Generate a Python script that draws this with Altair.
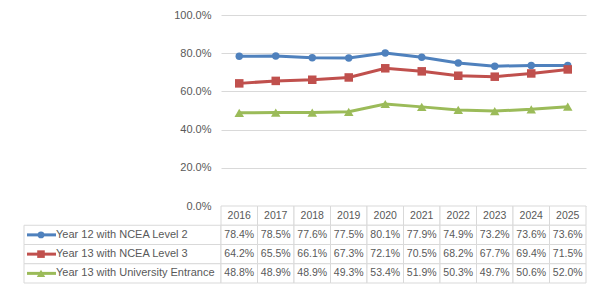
import altair as alt
import pandas as pd

years = ["2016", "2017", "2018", "2019", "2020", "2021", "2022", "2023", "2024", "2025"]
series = ["Year 12 with NCEA Level 2", "Year 13 with NCEA Level 3", "Year 13 with University Entrance"]
level2 = [78.4, 78.5, 77.6, 77.5, 80.1, 77.9, 74.9, 73.2, 73.6, 73.6]
level3 = [64.2, 65.5, 66.1, 67.3, 72.1, 70.5, 68.2, 67.7, 69.4, 71.5]
ue = [48.8, 48.9, 48.9, 49.3, 53.4, 51.9, 50.3, 49.7, 50.6, 52.0]
colors = ["#4f81bd", "#c0504d", "#9bbb59"]
shapes = ["circle", "square", "triangle-up"]
y_ticks = [0, 20, 40, 60, 80, 100]

FONT = "Liberation Sans"
TXT = "#595959"
GRID = "#d9d9d9"

rows = []
for s, vals in zip(series, [level2, level3, ue]):
    for y, v in zip(years, vals):
        rows.append({"year": y, "series": s, "value": v})
df = pd.DataFrame(rows)

row_order = ["header"] + series

W_PLOT, H_PLOT = 365, 191
W_LEG, H_TAB = 197, 77

color_scale = alt.Scale(domain=series, range=colors)
shape_scale = alt.Scale(domain=series, range=shapes)

xpt = alt.X("year:O", axis=None, scale=alt.Scale(type="point", padding=0.5, domain=years))
yq = alt.Y("value:Q", scale=alt.Scale(domain=[0, 100]),
           axis=alt.Axis(values=y_ticks, grid=True, gridColor=GRID, domain=False, ticks=False,
                         labelPadding=10, labelFontSize=11, labelColor=TXT, labelFont=FONT,
                         title=None, labelExpr="format(datum.value, '.1f') + '%'"))

base = alt.Chart(df)
lines = base.mark_line(strokeWidth=3).encode(
    x=xpt, y=yq,
    color=alt.Color("series:N", scale=color_scale, legend=None),
)
points = base.mark_point(filled=True, opacity=1).encode(
    x=xpt, y=yq,
    color=alt.Color("series:N", scale=color_scale, legend=None),
    shape=alt.Shape("series:N", scale=shape_scale, legend=None),
    size=alt.Size("series:N", scale=alt.Scale(domain=series, range=[55, 90, 90]), legend=None),
)
line_chart = alt.layer(lines, points).properties(width=W_PLOT, height=H_PLOT)

spacer = alt.Chart(pd.DataFrame({"a": [0]})).mark_point(opacity=0).encode(
    x=alt.X("a:Q", axis=None), y=alt.Y("a:Q", axis=None)
).properties(width=W_LEG, height=H_PLOT)

# table
tab_rows = [{"row": "header", "year": y, "label": y} for y in years]
for r in rows:
    tab_rows.append({"row": r["series"], "year": r["year"], "label": f"{r['value']:.1f}%"})
tdf = pd.DataFrame(tab_rows)

xb = alt.X("year:N", axis=None, sort=years,
           scale=alt.Scale(type="band", paddingInner=0, paddingOuter=0, domain=years))
yb = alt.Y("row:N", axis=None, sort=row_order,
           scale=alt.Scale(type="band", paddingInner=0, paddingOuter=0, domain=row_order))

tbase = alt.Chart(tdf)
cells = tbase.mark_rect(fill="white", stroke=GRID, strokeWidth=1).encode(x=xb, y=yb)
ctext = tbase.mark_text(font=FONT, fontSize=10.5, color=TXT, baseline="middle", align="center").encode(
    x=xb, y=yb, text="label:N")
table = alt.layer(cells, ctext).properties(width=W_PLOT, height=H_TAB)

# legend column
ldf = pd.DataFrame({"row": series, "col": ["legend"] * 3})
xl = alt.X("col:N", axis=None, scale=alt.Scale(type="band", paddingInner=0, paddingOuter=0))
yl = alt.Y("row:N", axis=None, sort=row_order,
           scale=alt.Scale(type="band", paddingInner=0, paddingOuter=0, domain=row_order))
lbase = alt.Chart(ldf)
lcells = lbase.mark_rect(fill="white", stroke=GRID, strokeWidth=1).encode(x=xl, y=yl)
lline = lbase.mark_rule(strokeWidth=3).encode(
    x=alt.value(3), x2=alt.value(32), y=yl,
    color=alt.Color("row:N", scale=color_scale, legend=None))
lpt = lbase.mark_point(filled=True, opacity=1).encode(
    x=alt.value(17), y=yl,
    color=alt.Color("row:N", scale=color_scale, legend=None),
    shape=alt.Shape("row:N", scale=shape_scale, legend=None),
    size=alt.Size("row:N", scale=alt.Scale(domain=series, range=[45, 70, 70]), legend=None))
ltext = lbase.mark_text(font=FONT, fontSize=11, color=TXT, align="left", baseline="middle").encode(
    x=alt.value(32), y=yl, text="row:N")
legend_col = alt.layer(lcells, lline, lpt, ltext).properties(width=W_LEG, height=H_TAB)

chart = alt.concat(spacer, line_chart, legend_col, table, columns=2, spacing=0, bounds="flush").configure_view(
    stroke=None
).resolve_scale(color="independent", shape="independent", size="independent").properties(
    padding={"left": 15, "top": 1, "right": 5, "bottom": 2}
)

chart.save("out.html", embed_options={"renderer": "svg", "actions": False})
